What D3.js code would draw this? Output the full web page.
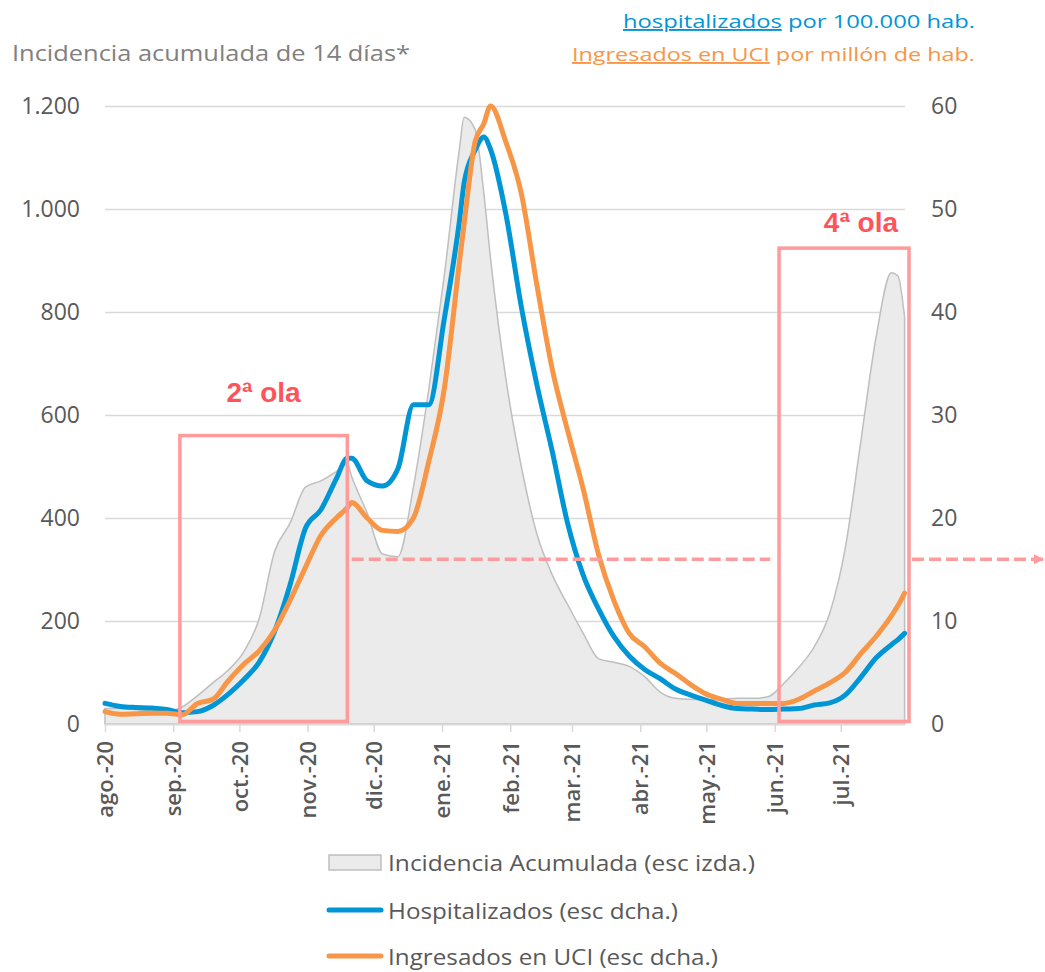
<!DOCTYPE html>
<html>
<head>
<meta charset="utf-8">
<script src="https://cdn.jsdelivr.net/npm/d3@7"></script>
<style>
  body { margin: 0; background: #fff; }
  svg { display: block; font-family: 'Open Sans', sans-serif; }
  .grid line { stroke: #d9d9d9; stroke-width: 1.5; }
  .grid path, .axis-y path, .axis-y line { display: none; }
  .axis-y text { fill: #595959; font-size: 23px; font-family: 'Open Sans', sans-serif; }
  .axis-x path { stroke: #d9d9d9; stroke-width: 2; }
  .axis-x line { stroke: #d9d9d9; stroke-width: 1.5; }
  .axis-x text { fill: #595959; font-size: 22px; font-weight: 600; font-family: 'Open Sans', sans-serif; }
  .legend text { fill: #595959; font-size: 21px; }
</style>
</head>
<body>
<svg id="chart" width="1045" height="972"></svg>
<script>
// Weekly readings (plus a few extra around the peaks)
const dates = [
  '2020-08-01', '2020-08-08', '2020-08-15', '2020-08-22', '2020-08-29',
  '2020-09-05', '2020-09-12', '2020-09-19', '2020-09-26', '2020-10-03',
  '2020-10-10', '2020-10-17', '2020-10-24', '2020-10-31', '2020-11-07',
  '2020-11-14', '2020-11-19', '2020-11-21', '2020-11-28', '2020-12-05',
  '2020-12-12', '2020-12-19', '2020-12-26', '2021-01-02', '2021-01-09',
  '2021-01-11', '2021-01-16', '2021-01-20', '2021-01-23', '2021-01-30',
  '2021-02-06', '2021-02-13', '2021-02-20', '2021-02-27', '2021-03-06',
  '2021-03-13', '2021-03-20', '2021-03-27', '2021-04-03', '2021-04-10',
  '2021-04-17', '2021-04-24', '2021-05-01', '2021-05-08', '2021-05-15',
  '2021-05-22', '2021-05-29', '2021-06-05', '2021-06-12', '2021-06-19',
  '2021-06-26', '2021-07-03', '2021-07-10', '2021-07-17', '2021-07-24',
  '2021-07-27', '2021-07-30'
]

// Incidencia acumulada 14 dias (escala izda.)
const incidencia = [
  30, 30, 28, 26, 25,
  33, 55, 80, 105, 140,
  205, 335, 390, 460, 472,
  490, 505, 480, 410, 330,
  325, 460, 650, 870, 1120,
  1178, 1155, 1030, 905, 670,
  500, 370, 290, 232, 177,
  127, 120, 112, 92, 62,
  50, 48, 47, 48, 50,
  50, 53, 78, 110, 150,
  215, 340, 545, 750, 876,
  870, 790
]

// Hospitalizados por 100.000 hab. (escala dcha.)
const hospitalizados = [
  2.0, 1.7, 1.6, 1.55, 1.4,
  1.1, 1.2, 1.8, 2.9, 4.3,
  6.0, 9.0, 13.5, 19.0, 20.8,
  23.8, 25.8, 25.8, 23.6, 23.1,
  24.8, 31.0, 31.0, 39.3, 49.0,
  52.5, 55.7, 57.0, 55.8, 49.5,
  40.5, 33.0, 26.5, 19.5, 14.5,
  11.2, 8.5, 6.6, 5.3, 4.4,
  3.4, 2.8, 2.3, 1.8, 1.5,
  1.45, 1.4, 1.45, 1.5, 1.85,
  2.05, 2.8, 4.5, 6.4, 7.7,
  8.2, 8.8
]

// Ingresados en UCI por millon de hab. (escala dcha.)
const uci = [
  1.2, 0.95, 1.0, 1.05, 1.05,
  0.9, 2.0, 2.4, 4.2, 5.8,
  7.1, 9.1, 12.0, 15.2, 18.3,
  20.0, 21.0, 21.5, 20.0, 18.8,
  18.7, 20.0, 25.5, 32.5, 45.0,
  48.5, 56.5, 58.3, 60.0, 56.5,
  51.5, 42.7, 34.5, 28.5, 22.9,
  16.5, 12.0, 8.8, 7.5, 5.9,
  4.9, 3.8, 2.9, 2.4, 2.0,
  2.0, 2.0, 2.0, 2.4, 3.2,
  4.0, 5.0, 6.8, 8.5, 10.5,
  11.5, 12.7
]

const monthTicks = [
  '2020-08-01', '2020-09-01', '2020-10-01', '2020-11-01', '2020-12-01', '2021-01-01',
  '2021-02-01', '2021-03-01', '2021-04-01', '2021-05-01', '2021-06-01', '2021-07-01'
]
const monthLabels = [
  'ago.-20', 'sep.-20', 'oct.-20', 'nov.-20', 'dic.-20', 'ene.-21',
  'feb.-21', 'mar.-21', 'abr.-21', 'may.-21', 'jun.-21', 'jul.-21'
]
const leftTicks = [0, 200, 400, 600, 800, 1000, 1200]
const rightTicks = [0, 10, 20, 30, 40, 50, 60]

// Highlighted waves: date range and top on left scale
const olaLabels = ['2ª ola', '4ª ola']
const olaStart = ['2020-09-04', '2021-06-03']
const olaEnd = ['2020-11-19', '2021-08-01']
const olaTop = [560, 924]
const olaBottom = 5

// Dashed reference level (left scale)
const refLevel = 320
const refStart = '2020-11-21'
const refEnd = '2021-05-30'

const legendLabels = [
  'Incidencia Acumulada (esc izda.)',
  'Hospitalizados (esc dcha.)',
  'Ingresados en UCI (esc dcha.)'
]

// Colours
const blue = '#0096d6'
const orange = '#f79646'
const pink = '#ff9b9b'

const parse = d3.utcParse('%Y-%m-%d')
const data = dates.map((d, i) => ({
  date: parse(d),
  inc: incidencia[i],
  hosp: hospitalizados[i],
  uci: uci[i]
}))

const svg = d3.select('#chart')

// Scales
const xScale = d3.scaleUtc()
  .domain([parse('2020-08-01'), parse('2021-07-30')])
  .range([105, 904.6])
const yLeft = d3.scaleLinear().domain([0, 1200]).range([724, 106])
const yRight = d3.scaleLinear().domain([0, 60]).range([724, 106])

const esLocale = d3.formatLocale({ decimal: ',', thousands: '.', grouping: [3], currency: ['', ''] })
const fmt = esLocale.format(',')

// Gridlines
svg.append('g')
  .attr('class', 'grid')
  .attr('transform', 'translate(105,0)')
  .call(d3.axisLeft(yLeft).tickValues(leftTicks.slice(1)).tickSize(-800).tickFormat(''))

// Incidence area
const area = d3.area()
  .x(d => xScale(d.date))
  .y0(yLeft(0))
  .y1(d => yLeft(d.inc))
  .curve(d3.curveMonotoneX)

svg.append('path')
  .datum(data)
  .attr('d', area)
  .attr('fill', '#ebebeb')
  .attr('stroke', '#bfbfbf')
  .attr('stroke-width', 1.5)

// Bottom axis
const xAxis = svg.append('g')
  .attr('class', 'axis-x')
  .attr('transform', `translate(0,${yLeft(0)})`)
  .call(d3.axisBottom(xScale)
    .tickValues(monthTicks.map(parse))
    .tickSize(8)
    .tickSizeOuter(0)
    .tickFormat((d, i) => monthLabels[i]))

xAxis.selectAll('text')
  .attr('transform', 'rotate(-90)')
  .attr('x', -17)
  .attr('y', 0)
  .attr('dy', '0.35em')
  .attr('text-anchor', 'end')

// Left axis
svg.append('g')
  .attr('class', 'axis-y')
  .attr('transform', 'translate(80,0)')
  .call(d3.axisLeft(yLeft).tickValues(leftTicks).tickSize(0).tickPadding(0).tickFormat(fmt))

// Right axis
svg.append('g')
  .attr('class', 'axis-y')
  .attr('transform', 'translate(931,0)')
  .call(d3.axisRight(yRight).tickValues(rightTicks).tickSize(0).tickPadding(0))

// Lines
const hospLine = d3.line()
  .x(d => xScale(d.date))
  .y(d => yRight(d.hosp))
  .curve(d3.curveMonotoneX)

const uciLine = d3.line()
  .x(d => xScale(d.date))
  .y(d => yRight(d.uci))
  .curve(d3.curveMonotoneX)

svg.append('path')
  .datum(data)
  .attr('d', hospLine)
  .attr('fill', 'none')
  .attr('stroke', blue)
  .attr('stroke-width', 5)
  .attr('stroke-linejoin', 'round')
  .attr('stroke-linecap', 'round')

svg.append('path')
  .datum(data)
  .attr('d', uciLine)
  .attr('fill', 'none')
  .attr('stroke', orange)
  .attr('stroke-width', 5)
  .attr('stroke-linejoin', 'round')
  .attr('stroke-linecap', 'round')

// Wave boxes
olaLabels.forEach((label, i) => {
  const x0 = xScale(parse(olaStart[i]))
  const x1 = xScale(parse(olaEnd[i]))
  const yTop = yLeft(olaTop[i])
  const yBot = yLeft(olaBottom)
  svg.append('rect')
    .attr('x', x0)
    .attr('y', yTop)
    .attr('width', x1 - x0)
    .attr('height', yBot - yTop)
    .attr('fill', 'none')
    .attr('stroke', pink)
    .attr('stroke-width', 3.5)

  svg.append('text')
    .attr('x', i === 0 ? (x0 + x1) / 2 : x1 - 11)
    .attr('y', i === 0 ? yTop - 34 : yTop - 16)
    .attr('text-anchor', i === 0 ? 'middle' : 'end')
    .attr('font-family', "'Liberation Sans', Arial, sans-serif")
    .attr('font-weight', 'bold')
    .attr('font-size', 28)
    .attr('fill', '#ff535a')
    .text(label)
})

// Dashed reference line and arrow
svg.append('defs').append('marker')
  .attr('id', 'arrow')
  .attr('viewBox', '0 0 10 10')
  .attr('refX', 10)
  .attr('refY', 5)
  .attr('markerWidth', 3)
  .attr('markerHeight', 3.5)
  .attr('orient', 'auto')
  .append('path')
  .attr('d', 'M0,0L10,5L0,10Z')
  .attr('fill', pink)

const refY = yLeft(refLevel)
svg.append('line')
  .attr('x1', xScale(parse(refStart)))
  .attr('x2', xScale(parse(refEnd)))
  .attr('y1', refY)
  .attr('y2', refY)
  .attr('stroke', pink)
  .attr('stroke-width', 3.5)
  .attr('stroke-dasharray', '12 5')

svg.append('line')
  .attr('x1', xScale(parse(olaEnd[1])) + 3)
  .attr('x2', 1044)
  .attr('y1', refY)
  .attr('y2', refY)
  .attr('stroke', pink)
  .attr('stroke-width', 3.5)
  .attr('stroke-dasharray', '12 5')
  .attr('marker-end', 'url(#arrow)')

// Titles
svg.append('text')
  .attr('x', 12)
  .attr('y', 61)
  .attr('font-size', 21)
  .attr('fill', '#808080')
  .attr('textLength', 398)
  .attr('lengthAdjust', 'spacingAndGlyphs')
  .text('Incidencia acumulada de 14 días*')

const t1 = svg.append('text')
  .attr('x', 975)
  .attr('y', 28)
  .attr('text-anchor', 'end')
  .attr('font-size', 19)
  .attr('fill', blue)
  .attr('textLength', 352)
  .attr('lengthAdjust', 'spacingAndGlyphs')
t1.append('tspan').attr('text-decoration', 'underline').text('hospitalizados')
t1.append('tspan').text(' por 100.000 hab.')

const t2 = svg.append('text')
  .attr('x', 975)
  .attr('y', 61)
  .attr('text-anchor', 'end')
  .attr('font-size', 19)
  .attr('fill', orange)
  .attr('textLength', 403)
  .attr('lengthAdjust', 'spacingAndGlyphs')
t2.append('tspan').attr('text-decoration', 'underline').text('Ingresados en UCI')
t2.append('tspan').text(' por millón de hab.')

// Legend
const legend = svg.append('g').attr('class', 'legend')
const legendY = [862, 910, 956]
const legendWidths = [367, 290, 330]

legend.append('rect')
  .attr('x', 329)
  .attr('y', legendY[0] - 7)
  .attr('width', 52)
  .attr('height', 15)
  .attr('fill', '#ebebeb')
  .attr('stroke', '#bfbfbf')
  .attr('stroke-width', 1.5)

;[blue, orange].forEach((c, i) => {
  legend.append('line')
    .attr('x1', 329)
    .attr('x2', 381)
    .attr('y1', legendY[i + 1])
    .attr('y2', legendY[i + 1])
    .attr('stroke', c)
    .attr('stroke-width', 5)
    .attr('stroke-linecap', 'round')
})

legendLabels.forEach((label, i) => {
  legend.append('text')
    .attr('x', 388)
    .attr('y', legendY[i] + 9)
    .attr('textLength', legendWidths[i])
    .attr('lengthAdjust', 'spacingAndGlyphs')
    .text(label)
})
</script>
</body>
</html>
